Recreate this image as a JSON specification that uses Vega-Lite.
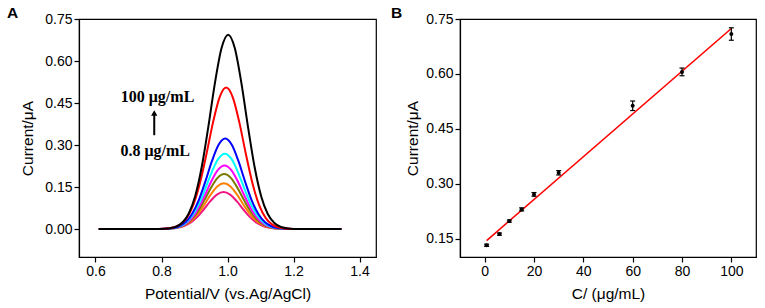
{
  "$schema": "https://vega.github.io/schema/vega-lite/v6.json",
  "background": "white",
  "padding": {"left": 6, "top": 4, "right": 5, "bottom": 0},
  "spacing": 13,
  "config": {
    "view": {"stroke": "black", "strokeWidth": 1.2},
    "font": "Liberation Sans",
    "axis": {
      "grid": false,
      "domainColor": "black",
      "tickColor": "black",
      "labelColor": "black",
      "titleColor": "black",
      "labelFont": "Liberation Sans",
      "titleFont": "Liberation Sans",
      "labelFontSize": 14,
      "titleFontSize": 15.5,
      "titleFontWeight": "normal",
      "tickSize": 5,
      "labelPadding": 2,
      "domainWidth": 1.2,
      "tickWidth": 1.2
    },
    "axisX": {"titlePadding": 8},
    "axisY": {"titlePadding": 9}
  },
  "datasets": {
    "curves": [
      {"c": "pink", "x": 0.61, "y": 0}, {"c": "pink", "x": 0.788, "y": 0}, {"c": "pink", "x": 0.828, "y": 0.0014}, {"c": "pink", "x": 0.848, "y": 0.004}, {"c": "pink", "x": 0.868, "y": 0.0102}, {"c": "pink", "x": 0.888, "y": 0.0223}, {"c": "pink", "x": 0.908, "y": 0.0423}, {"c": "pink", "x": 0.928, "y": 0.0696}, {"c": "pink", "x": 0.948, "y": 0.0993}, {"c": "pink", "x": 0.968, "y": 0.1229}, {"c": "pink", "x": 0.988, "y": 0.132}, {"c": "pink", "x": 1.008, "y": 0.1229}, {"c": "pink", "x": 1.028, "y": 0.0993}, {"c": "pink", "x": 1.048, "y": 0.0696}, {"c": "pink", "x": 1.068, "y": 0.0423}, {"c": "pink", "x": 1.088, "y": 0.0223}, {"c": "pink", "x": 1.108, "y": 0.0102}, {"c": "pink", "x": 1.128, "y": 0.004}, {"c": "pink", "x": 1.148, "y": 0.0014}, {"c": "pink", "x": 1.188, "y": 0}, {"c": "pink", "x": 1.345, "y": 0},
      {"c": "orange", "x": 0.61, "y": 0}, {"c": "orange", "x": 0.789, "y": 0}, {"c": "orange", "x": 0.829, "y": 0.0017}, {"c": "orange", "x": 0.849, "y": 0.005}, {"c": "orange", "x": 0.869, "y": 0.0126}, {"c": "orange", "x": 0.889, "y": 0.0275}, {"c": "orange", "x": 0.909, "y": 0.0522}, {"c": "orange", "x": 0.929, "y": 0.0859}, {"c": "orange", "x": 0.949, "y": 0.1226}, {"c": "orange", "x": 0.969, "y": 0.1518}, {"c": "orange", "x": 0.989, "y": 0.163}, {"c": "orange", "x": 1.009, "y": 0.1518}, {"c": "orange", "x": 1.029, "y": 0.1226}, {"c": "orange", "x": 1.049, "y": 0.0859}, {"c": "orange", "x": 1.069, "y": 0.0522}, {"c": "orange", "x": 1.089, "y": 0.0275}, {"c": "orange", "x": 1.109, "y": 0.0126}, {"c": "orange", "x": 1.129, "y": 0.005}, {"c": "orange", "x": 1.149, "y": 0.0017}, {"c": "orange", "x": 1.189, "y": 0}, {"c": "orange", "x": 1.345, "y": 0},
      {"c": "olive", "x": 0.61, "y": 0}, {"c": "olive", "x": 0.79, "y": 0}, {"c": "olive", "x": 0.83, "y": 0.0021}, {"c": "olive", "x": 0.85, "y": 0.006}, {"c": "olive", "x": 0.87, "y": 0.0151}, {"c": "olive", "x": 0.89, "y": 0.033}, {"c": "olive", "x": 0.91, "y": 0.0627}, {"c": "olive", "x": 0.93, "y": 0.1033}, {"c": "olive", "x": 0.95, "y": 0.1474}, {"c": "olive", "x": 0.97, "y": 0.1825}, {"c": "olive", "x": 0.99, "y": 0.196}, {"c": "olive", "x": 1.01, "y": 0.1825}, {"c": "olive", "x": 1.03, "y": 0.1474}, {"c": "olive", "x": 1.05, "y": 0.1033}, {"c": "olive", "x": 1.07, "y": 0.0627}, {"c": "olive", "x": 1.09, "y": 0.033}, {"c": "olive", "x": 1.11, "y": 0.0151}, {"c": "olive", "x": 1.13, "y": 0.006}, {"c": "olive", "x": 1.15, "y": 0.0021}, {"c": "olive", "x": 1.19, "y": 0}, {"c": "olive", "x": 1.345, "y": 0},
      {"c": "magenta", "x": 0.61, "y": 0}, {"c": "magenta", "x": 0.791, "y": 0}, {"c": "magenta", "x": 0.831, "y": 0.0024}, {"c": "magenta", "x": 0.851, "y": 0.0069}, {"c": "magenta", "x": 0.871, "y": 0.0175}, {"c": "magenta", "x": 0.891, "y": 0.0383}, {"c": "magenta", "x": 0.911, "y": 0.0727}, {"c": "magenta", "x": 0.931, "y": 0.1196}, {"c": "magenta", "x": 0.951, "y": 0.1707}, {"c": "magenta", "x": 0.971, "y": 0.2114}, {"c": "magenta", "x": 0.991, "y": 0.227}, {"c": "magenta", "x": 1.011, "y": 0.2114}, {"c": "magenta", "x": 1.031, "y": 0.1707}, {"c": "magenta", "x": 1.051, "y": 0.1196}, {"c": "magenta", "x": 1.071, "y": 0.0727}, {"c": "magenta", "x": 1.091, "y": 0.0383}, {"c": "magenta", "x": 1.111, "y": 0.0175}, {"c": "magenta", "x": 1.131, "y": 0.0069}, {"c": "magenta", "x": 1.151, "y": 0.0024}, {"c": "magenta", "x": 1.191, "y": 0}, {"c": "magenta", "x": 1.345, "y": 0},
      {"c": "cyan", "x": 0.61, "y": 0}, {"c": "cyan", "x": 0.792, "y": 0}, {"c": "cyan", "x": 0.832, "y": 0.0028}, {"c": "cyan", "x": 0.852, "y": 0.0082}, {"c": "cyan", "x": 0.872, "y": 0.0207}, {"c": "cyan", "x": 0.892, "y": 0.0454}, {"c": "cyan", "x": 0.912, "y": 0.0861}, {"c": "cyan", "x": 0.932, "y": 0.1417}, {"c": "cyan", "x": 0.952, "y": 0.2023}, {"c": "cyan", "x": 0.972, "y": 0.2505}, {"c": "cyan", "x": 0.992, "y": 0.269}, {"c": "cyan", "x": 1.012, "y": 0.2505}, {"c": "cyan", "x": 1.032, "y": 0.2023}, {"c": "cyan", "x": 1.052, "y": 0.1417}, {"c": "cyan", "x": 1.072, "y": 0.0861}, {"c": "cyan", "x": 1.092, "y": 0.0454}, {"c": "cyan", "x": 1.112, "y": 0.0207}, {"c": "cyan", "x": 1.132, "y": 0.0082}, {"c": "cyan", "x": 1.152, "y": 0.0028}, {"c": "cyan", "x": 1.192, "y": 0}, {"c": "cyan", "x": 1.345, "y": 0},
      {"c": "blue", "x": 0.61, "y": 0}, {"c": "blue", "x": 0.793, "y": 0}, {"c": "blue", "x": 0.833, "y": 0.0034}, {"c": "blue", "x": 0.853, "y": 0.0099}, {"c": "blue", "x": 0.873, "y": 0.0249}, {"c": "blue", "x": 0.893, "y": 0.0545}, {"c": "blue", "x": 0.913, "y": 0.1034}, {"c": "blue", "x": 0.933, "y": 0.1702}, {"c": "blue", "x": 0.953, "y": 0.243}, {"c": "blue", "x": 0.973, "y": 0.3008}, {"c": "blue", "x": 0.993, "y": 0.323}, {"c": "blue", "x": 1.013, "y": 0.3008}, {"c": "blue", "x": 1.033, "y": 0.243}, {"c": "blue", "x": 1.053, "y": 0.1702}, {"c": "blue", "x": 1.073, "y": 0.1034}, {"c": "blue", "x": 1.093, "y": 0.0545}, {"c": "blue", "x": 1.113, "y": 0.0249}, {"c": "blue", "x": 1.133, "y": 0.0099}, {"c": "blue", "x": 1.153, "y": 0.0034}, {"c": "blue", "x": 1.193, "y": 0}, {"c": "blue", "x": 1.345, "y": 0},
      {"c": "red", "x": 0.61, "y": 0}, {"c": "red", "x": 0.796, "y": 0}, {"c": "red", "x": 0.836, "y": 0.0053}, {"c": "red", "x": 0.856, "y": 0.0154}, {"c": "red", "x": 0.876, "y": 0.0389}, {"c": "red", "x": 0.896, "y": 0.0851}, {"c": "red", "x": 0.916, "y": 0.1617}, {"c": "red", "x": 0.936, "y": 0.2661}, {"c": "red", "x": 0.956, "y": 0.3799}, {"c": "red", "x": 0.976, "y": 0.4703}, {"c": "red", "x": 0.996, "y": 0.505}, {"c": "red", "x": 1.016, "y": 0.4703}, {"c": "red", "x": 1.036, "y": 0.3799}, {"c": "red", "x": 1.056, "y": 0.2661}, {"c": "red", "x": 1.076, "y": 0.1617}, {"c": "red", "x": 1.096, "y": 0.0851}, {"c": "red", "x": 1.116, "y": 0.0389}, {"c": "red", "x": 1.136, "y": 0.0154}, {"c": "red", "x": 1.156, "y": 0.0053}, {"c": "red", "x": 1.196, "y": 0}, {"c": "red", "x": 1.345, "y": 0},
      {"c": "black", "x": 0.61, "y": 0}, {"c": "black", "x": 0.802, "y": 0}, {"c": "black", "x": 0.842, "y": 0.0073}, {"c": "black", "x": 0.862, "y": 0.0212}, {"c": "black", "x": 0.882, "y": 0.0535}, {"c": "black", "x": 0.902, "y": 0.117}, {"c": "black", "x": 0.922, "y": 0.2222}, {"c": "black", "x": 0.942, "y": 0.3657}, {"c": "black", "x": 0.962, "y": 0.522}, {"c": "black", "x": 0.982, "y": 0.6463}, {"c": "black", "x": 1.002, "y": 0.694}, {"c": "black", "x": 1.022, "y": 0.6463}, {"c": "black", "x": 1.042, "y": 0.522}, {"c": "black", "x": 1.062, "y": 0.3657}, {"c": "black", "x": 1.082, "y": 0.2222}, {"c": "black", "x": 1.102, "y": 0.117}, {"c": "black", "x": 1.122, "y": 0.0535}, {"c": "black", "x": 1.142, "y": 0.0212}, {"c": "black", "x": 1.162, "y": 0.0073}, {"c": "black", "x": 1.202, "y": 0}, {"c": "black", "x": 1.345, "y": 0}
    ],
    "labels": [
      {"x": 0.788, "y": 0.472, "t": "100 μg/mL"},
      {"x": 0.781, "y": 0.278, "t": "0.8 μg/mL"}
    ],
    "arrow": [
      {"x": 0.778, "y": 0.335, "y2": 0.408}
    ],
    "arrowhead": [
      {"x": 0.778, "y": 0.414}
    ],
    "points": [
      {"c": 0.8, "i": 0.132, "lo": 0.129, "hi": 0.135},
      {"c": 6, "i": 0.1625, "lo": 0.1595, "hi": 0.1655},
      {"c": 10, "i": 0.198, "lo": 0.195, "hi": 0.201},
      {"c": 15, "i": 0.23, "lo": 0.226, "hi": 0.234},
      {"c": 20, "i": 0.271, "lo": 0.266, "hi": 0.276},
      {"c": 30, "i": 0.33, "lo": 0.324, "hi": 0.336},
      {"c": 60, "i": 0.513, "lo": 0.5, "hi": 0.526},
      {"c": 80, "i": 0.605, "lo": 0.595, "hi": 0.616},
      {"c": 100, "i": 0.709, "lo": 0.692, "hi": 0.726}
    ],
    "fit": [
      {"c": 0.8, "i": 0.145},
      {"c": 100, "i": 0.724}
    ]
  },
  "hconcat": [
    {
      "width": 297,
      "height": 238,
      "title": {"text": "A", "anchor": "start", "frame": "group", "dx": -72, "fontSize": 15.5, "fontWeight": "bold", "font": "Liberation Sans", "color": "black", "offset": -9},
      "layer": [
        {
          "data": {"name": "curves"},
          "mark": {"type": "line", "strokeWidth": 2, "interpolate": "monotone"},
          "encoding": {
            "x": {"field": "x", "type": "quantitative", "scale": {"domain": [0.55, 1.45], "nice": false, "zero": false}, "axis": {"values": [0.6, 0.8, 1.0, 1.2, 1.4], "format": ".1f", "title": "Potential/V (vs.Ag/AgCl)"}},
            "y": {"field": "y", "type": "quantitative", "scale": {"domain": [-0.1, 0.75], "nice": false, "zero": false}, "axis": {"values": [0, 0.15, 0.3, 0.45, 0.6, 0.75], "format": ".2f", "title": "Current/μA"}},
            "color": {"field": "c", "type": "nominal", "sort": null, "scale": {"domain": ["pink", "orange", "olive", "magenta", "cyan", "blue", "red", "black"], "range": ["#f0157f", "#ff7f00", "#7a7a00", "#ff00ff", "#00ffff", "#0000ff", "#ff0000", "#000000"]}, "legend": null}
          }
        },
        {
          "data": {"name": "labels"},
          "mark": {"type": "text", "font": "Liberation Serif", "fontWeight": "bold", "fontSize": 16, "color": "black"},
          "encoding": {
            "x": {"field": "x", "type": "quantitative"},
            "y": {"field": "y", "type": "quantitative"},
            "text": {"field": "t"}
          }
        },
        {
          "data": {"name": "arrow"},
          "mark": {"type": "rule", "strokeWidth": 2, "color": "black"},
          "encoding": {
            "x": {"field": "x", "type": "quantitative"},
            "y": {"field": "y", "type": "quantitative"},
            "y2": {"field": "y2"}
          }
        },
        {
          "data": {"name": "arrowhead"},
          "mark": {"type": "point", "shape": "triangle-up", "filled": true, "size": 40, "color": "black", "opacity": 1},
          "encoding": {
            "x": {"field": "x", "type": "quantitative"},
            "y": {"field": "y", "type": "quantitative"}
          }
        }
      ]
    },
    {
      "width": 296,
      "height": 238,
      "title": {"text": "B", "anchor": "start", "frame": "group", "dx": -69, "fontSize": 15.5, "fontWeight": "bold", "font": "Liberation Sans", "color": "black", "offset": -9},
      "layer": [
        {
          "data": {"name": "fit"},
          "mark": {"type": "line", "color": "#ff0000", "strokeWidth": 1.6},
          "encoding": {
            "x": {"field": "c", "type": "quantitative", "scale": {"domain": [-10, 110], "nice": false, "zero": false}, "axis": {"values": [0, 20, 40, 60, 80, 100], "title": "C/ (μg/mL)"}},
            "y": {"field": "i", "type": "quantitative", "scale": {"domain": [0.1, 0.75], "nice": false, "zero": false}, "axis": {"values": [0.15, 0.3, 0.45, 0.6, 0.75], "format": ".2f", "title": "Current/μA", "titlePadding": 5}}
          }
        },
        {
          "data": {"name": "points"},
          "mark": {"type": "rule", "color": "black", "strokeWidth": 1.2},
          "encoding": {
            "x": {"field": "c", "type": "quantitative"},
            "y": {"field": "lo", "type": "quantitative"},
            "y2": {"field": "hi"}
          }
        },
        {
          "data": {"name": "points"},
          "mark": {"type": "tick", "orient": "horizontal", "color": "black", "size": 5, "thickness": 1.2, "opacity": 1},
          "encoding": {
            "x": {"field": "c", "type": "quantitative"},
            "y": {"field": "lo", "type": "quantitative"}
          }
        },
        {
          "data": {"name": "points"},
          "mark": {"type": "tick", "orient": "horizontal", "color": "black", "size": 5, "thickness": 1.2, "opacity": 1},
          "encoding": {
            "x": {"field": "c", "type": "quantitative"},
            "y": {"field": "hi", "type": "quantitative"}
          }
        },
        {
          "data": {"name": "points"},
          "mark": {"type": "point", "shape": "circle", "filled": true, "size": 16, "color": "black", "opacity": 1},
          "encoding": {
            "x": {"field": "c", "type": "quantitative"},
            "y": {"field": "i", "type": "quantitative"}
          }
        }
      ]
    }
  ]
}
